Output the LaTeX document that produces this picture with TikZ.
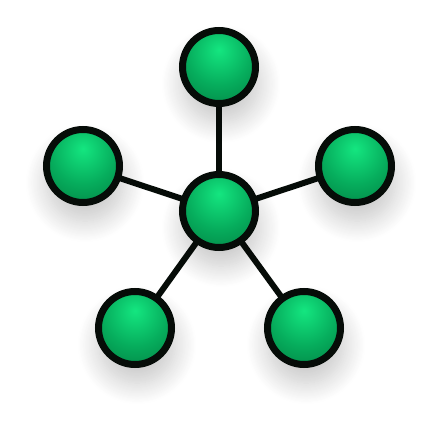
\documentclass[tikz,border=0pt]{standalone}
\usetikzlibrary{shadows.blur,backgrounds}
\definecolor{ballhi}{RGB}{20,230,128}
\definecolor{ballmid}{RGB}{6,172,92}
\definecolor{balldark}{RGB}{0,108,54}
\definecolor{balledge}{RGB}{6,12,8}
\pgfdeclareradialshading{greenball}{\pgfpoint{0bp}{12bp}}{%
  color(0bp)=(ballhi); color(22bp)=(ballmid); color(50bp)=(balldark); color(100bp)=(balldark)}
\tikzset{
  ball/.style={circle, minimum size=73pt, inner sep=0pt, line width=7pt,
    draw=balledge, shading=greenball,
    blur shadow={shadow xshift=2pt, shadow yshift=-16pt, shadow blur radius=20pt,
      shadow opacity=22, shadow scale=1.05, shadow blur steps=20}},
  link/.style={line width=6pt, draw=balledge}
}
\begin{document}
\begin{tikzpicture}[x=1pt,y=-1pt]
\useasboundingbox (0,0) rectangle (440,428);
\node[ball] (c) at (219,211) {};
\node[ball] (t) at (219,67) {};
\node[ball] (l) at (83,166) {};
\node[ball] (r) at (355,166) {};
\node[ball] (bl) at (135,328) {};
\node[ball] (br) at (304,328) {};
\begin{pgfonlayer}{background}
\draw[link] (c.center) -- (t.center);
\draw[link] (c.center) -- (l.center);
\draw[link] (c.center) -- (r.center);
\draw[link] (c.center) -- (bl.center);
\draw[link] (c.center) -- (br.center);
\end{pgfonlayer}
\end{tikzpicture}
\end{document}
